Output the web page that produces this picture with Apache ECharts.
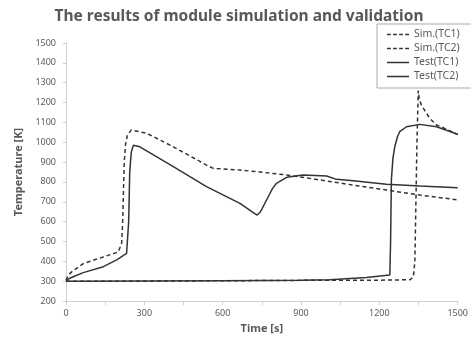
<!DOCTYPE html>
<html><head><meta charset="utf-8">
<script src="https://cdn.jsdelivr.net/npm/echarts@6/dist/echarts.min.js"></script>
<style>html,body{margin:0;padding:0;background:#fff}#c{width:471px;height:347px}</style>
</head><body><div id="c"></div>
<script>
const seriesNames = ['Sim.(TC1)', 'Sim.(TC2)', 'Test(TC1)', 'Test(TC2)'];
const simTC1 = [[0,305],[8,330],[22,347],[66,388],[143,422],[200,447],[207,455],[213,490],[217,600],[220,750],[223,900],[228,990],[235,1035],[250,1062],[309,1045],[411,977],[538,885],[564,868],[666,860],[742,850],[845,835],[972,810],[1100,784],[1227,759],[1355,734],[1500,710]];
const simTC2 = [[0,300],[300,300],[600,302],[900,304],[1200,305],[1317,307],[1330,320],[1336,400],[1340,700],[1344,1000],[1349,1260],[1353,1215],[1361,1187],[1393,1120],[1419,1087],[1450,1070],[1500,1038]];
const testTC1 = [[0,300],[10,312],[28,322],[66,343],[143,373],[194,407],[232,440],[236,445],[240,600],[244,850],[250,950],[258,985],[263,990],[283,977],[411,877],[538,776],[666,692],[720,643],[732,633],[745,650],[768,709],[790,765],[806,793],[845,823],[908,835],[998,830],[1036,813],[1100,806],[1227,788],[1355,779],[1500,771]];
const testTC2 = [[0,300],[300,301],[600,302],[900,305],[1010,307],[1150,318],[1240,331],[1243,500],[1246,810],[1252,920],[1259,977],[1270,1030],[1278,1053],[1304,1078],[1355,1090],[1419,1078],[1500,1040]];
const seriesData = [simTC1, simTC2, testTC1, testTC2];
const lineTypes = [[4,3], [4,3], 'solid', 'solid'];

const dashIcon = 'path://M0,0h3.6v1h-3.6z M5.8,0h3.6v1h-3.6z M11.6,0h3.6v1h-3.6z M17.4,0h3.6v1h-3.6z';
const solidIcon = 'path://M0,0h21v1h-21z';
const legendIcons = [dashIcon, dashIcon, solidIcon, solidIcon];

const chart = echarts.init(document.getElementById('c'), null, {renderer:'canvas'});
const txt = '#595959';
chart.setOption({
  animation: false,
  title: {text: 'The results of module simulation and validation', left: 234, textAlign: 'center', top: 4,
    textStyle: {fontFamily: 'Noto Sans', fontSize: 15.5, fontWeight: 'bold', color: txt}},
  legend: {orient: 'vertical', left: 377, top: 24, itemWidth: 22, itemHeight: 1.5, itemGap: 3,
    symbolKeepAspect: false,
    padding: [5, 30, 6, 10], borderColor: '#aaa', borderWidth: 1, backgroundColor: '#fff',
    textStyle: {fontFamily: 'Noto Sans', fontSize: 10.5, color: txt},
    data: seriesNames.map((n, i) => ({name: n, icon: legendIcons[i]}))},
  grid: {left: 66, right: 13, top: 43, bottom: 46},
  xAxis: {type: 'value', min: 0, max: 1500, interval: 150,
    name: 'Time [s]', nameLocation: 'middle', nameGap: 22,
    nameTextStyle: {fontFamily: 'Noto Sans', fontSize: 11, fontWeight: 'bold', color: txt},
    axisLine: {lineStyle: {color: '#d0d0d0'}}, axisTick: {show: true, length: 4, lineStyle: {color: '#d0d0d0'}},
    splitLine: {show: false},
    axisLabel: {fontFamily: 'Noto Sans', fontSize: 9, color: txt, margin: 8,
      formatter: v => (v % 300 === 0 ? String(v) : '')}},
  yAxis: {type: 'value', min: 200, max: 1500, interval: 100,
    name: 'Temperature [K]', nameLocation: 'middle', nameGap: 33, nameRotate: 90,
    nameTextStyle: {fontFamily: 'Noto Sans', fontSize: 11, fontWeight: 'bold', color: txt},
    axisLine: {show: true, lineStyle: {color: '#d0d0d0'}}, axisTick: {show: true, length: 3, lineStyle: {color: '#d0d0d0'}},
    splitLine: {show: false},
    axisLabel: {fontFamily: 'Noto Sans', fontSize: 9, color: txt, margin: 10, formatter: v => String(v)}},
  series: seriesNames.map((n, i) => ({
    name: n, type: 'line', data: seriesData[i], symbol: 'none', smooth: false,
    lineStyle: {color: '#333', width: 1.5, type: lineTypes[i]},
    itemStyle: {color: '#333'}
  }))
});
</script></body></html>
